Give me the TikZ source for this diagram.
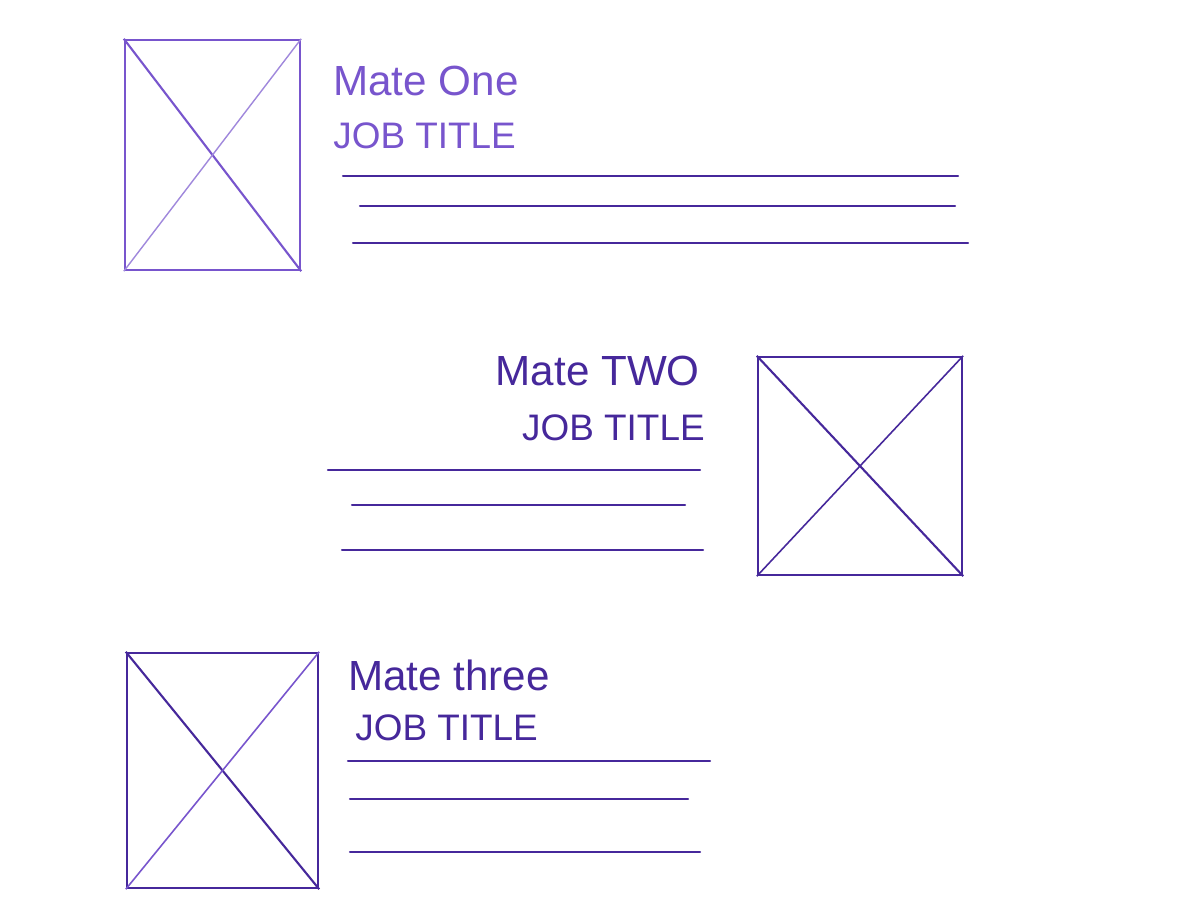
\documentclass[tikz,border=0pt]{standalone}
\usepackage{fontspec}
\setmainfont{Liberation Sans}
\definecolor{pen}{RGB}{70, 40, 155}
\definecolor{lightpen}{RGB}{120, 85, 205}

\begin{document}
\begin{tikzpicture}[x=0.02cm, y=-0.02cm,
        photo/.style = {draw=pen, line width=1.4pt, inner sep=0pt},
        matename/.style = {text=pen, inner sep=0pt, font=\fontsize{24}{28}\selectfont},
        jobtitle/.style = {text=pen, inner sep=0pt, font=\fontsize{21}{25}\selectfont},
        textline/.style = {draw=pen, line width=1.2pt, line cap=round},
        cross/.style = {draw=pen, line width=1.2pt}]
    \useasboundingbox[fill=white] (0,0) rectangle (1200,900);

    \node[photo, draw=lightpen, minimum width=3.5cm, minimum height=4.6cm] (photo1) at (212.5,155) {};
    \draw[cross, draw=lightpen] (photo1.north west) -- (photo1.south east);
    \draw[cross, draw=lightpen!70, line width=0.8pt] (photo1.north east) -- (photo1.south west);
    \node[matename, text=lightpen, anchor=base west] (mate1) at (333,95) {Mate One};
    \node[jobtitle, text=lightpen, anchor=base west] (job1) at (333,148) {JOB TITLE};
    \draw[textline] (343,176) -- (958,176);
    \draw[textline] (360,206) -- (955,206);
    \draw[textline] (353,243) -- (968,243);

    \node[photo, minimum width=4.08cm, minimum height=4.36cm] (photo2) at (860,466) {};
    \draw[cross] (photo2.north west) -- (photo2.south east);
    \draw[cross, line width=0.9pt] (photo2.north east) -- (photo2.south west);
    \node[matename, anchor=base east] (mate2) at (700,385) {Mate TWO};
    \node[jobtitle, anchor=base east] (job2) at (705,440) {JOB TITLE};
    \draw[textline] (328,470) -- (700,470);
    \draw[textline] (352,505) -- (685,505);
    \draw[textline] (342,550) -- (703,550);

    \node[photo, minimum width=3.82cm, minimum height=4.7cm] (photo3) at (222.5,770.5) {};
    \draw[cross] (photo3.north west) -- (photo3.south east);
    \draw[cross, draw=lightpen, line width=0.9pt] (photo3.north east) -- (photo3.south west);
    \node[matename, anchor=base west] (mate3) at (348,690) {Mate three};
    \node[jobtitle, anchor=base west] (job3) at (355,740) {JOB TITLE};
    \draw[textline] (348,761) -- (710,761);
    \draw[textline] (350,799) -- (688,799);
    \draw[textline] (350,852) -- (700,852);
\end{tikzpicture}
\end{document}
